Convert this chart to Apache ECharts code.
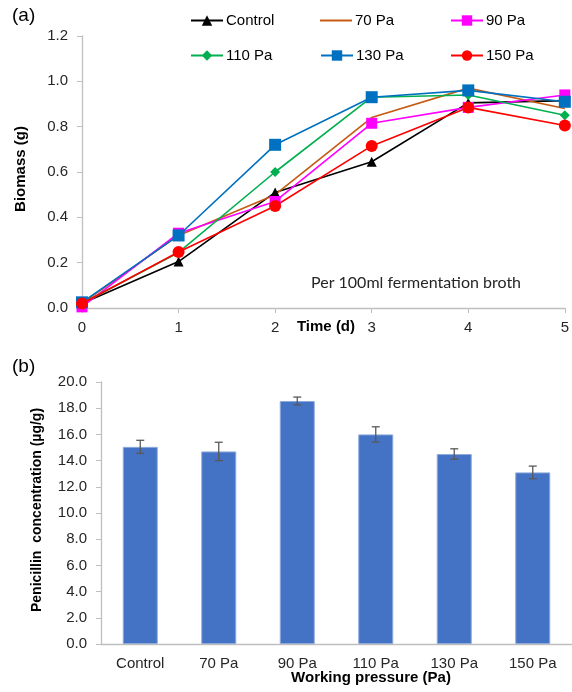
<!DOCTYPE html>
<html>
<head>
<meta charset="utf-8">
<script src="https://cdn.jsdelivr.net/npm/echarts@6/dist/echarts.min.js"></script>
<style>
  html, body { margin: 0; padding: 0; background: #fff; }
  #chart { width: 572px; height: 692px; }
</style>
</head>
<body>
<div id="chart"></div>
<script>
// (a) biomass over time
var days = [0, 1, 2, 3, 4, 5];
var control = [0.02, 0.205, 0.51, 0.645, 0.905, 0.915];
var pa70 = [0.02, 0.32, 0.50, 0.84, 0.97, 0.88];
var pa90 = [0.005, 0.33, 0.47, 0.815, 0.885, 0.94];
var pa110 = [0.02, 0.245, 0.60, 0.93, 0.94, 0.85];
var pa130 = [0.025, 0.32, 0.72, 0.93, 0.96, 0.91];
var pa150 = [0.02, 0.247, 0.45, 0.715, 0.885, 0.805];

// (b) penicillin concentration
var pressures = ['Control', '70 Pa', '90 Pa', '110 Pa', '130 Pa', '150 Pa'];
var penicillin = [15.05, 14.7, 18.55, 16.0, 14.5, 13.1];
var penicillinErr = [0.5, 0.7, 0.3, 0.58, 0.4, 0.48];

var FONT = 'Liberation Sans';
var axisGray = '#bfbfbf';
var labelColor = '#262626';

function pairs(ys) {
    return days.map(function (d, i) { return [d, ys[i]]; });
}

function lineSeries(name, ys, color, symbol, size) {
    return {
        name: name,
        type: 'line',
        xAxisIndex: 0,
        yAxisIndex: 0,
        data: pairs(ys),
        symbol: symbol,
        symbolSize: size,
        lineStyle: { color: color, width: 1.6 },
        itemStyle: { color: color },
        emphasis: { disabled: true },
        z: 3
    };
}

// one legend per entry so the columns line up like the original
var legendCols = [190, 320, 450];
var legendRows = [13, 48];
var legendNames = ['Control', '70 Pa', '90 Pa', '110 Pa', '130 Pa', '150 Pa'];
var legends = legendNames.map(function (n, i) {
    var lg = {
        data: [n],
        left: legendCols[i % 3],
        top: legendRows[Math.floor(i / 3)],
        padding: 0,
        itemWidth: 32, itemHeight: 13, itemGap: 0,
        textStyle: { fontFamily: FONT, fontSize: 15, color: '#000', padding: [0, 0, 0, -2] }
    };
    if (n === '70 Pa') {
        lg.icon = 'rect';
        lg.itemHeight = 2;
    }
    return lg;
});

var chart = echarts.init(document.getElementById('chart'), null, { renderer: 'canvas' });

var option = {
    animation: false,
    textStyle: { fontFamily: FONT },
    legend: legends,
    grid: [
        { left: 82, top: 36, width: 489, height: 272 },
        { left: 101, top: 382, width: 483, height: 262 }
    ],
    xAxis: [
        {
            type: 'value', gridIndex: 0,
            min: 0, max: 5, interval: 1,
            splitLine: { show: false },
            axisLine: { lineStyle: { color: axisGray, width: 1.3 } },
            axisTick: { show: true, length: 5, lineStyle: { color: axisGray } },
            axisLabel: { fontSize: 15, color: labelColor, margin: 12 }
        },
        {
            type: 'category', gridIndex: 1,
            data: pressures,
            axisLine: { lineStyle: { color: axisGray, width: 1.3 } },
            axisTick: { show: false },
            axisLabel: { fontSize: 15, color: labelColor, margin: 12, interval: 0 }
        }
    ],
    yAxis: [
        {
            type: 'value', gridIndex: 0,
            min: 0, max: 1.2, interval: 0.2,
            splitLine: { show: false },
            axisLine: { show: true, lineStyle: { color: axisGray, width: 1.3 } },
            axisTick: { show: true, length: 5, lineStyle: { color: axisGray } },
            axisLabel: {
                fontSize: 15, color: labelColor, margin: 14,
                formatter: function (v) { return v.toFixed(1); }
            }
        },
        {
            type: 'value', gridIndex: 1,
            min: 0, max: 20, interval: 2,
            splitLine: { show: false },
            axisLine: { show: true, lineStyle: { color: axisGray, width: 1.3 } },
            axisTick: { show: true, length: 5, lineStyle: { color: axisGray } },
            axisLabel: {
                fontSize: 15, color: labelColor, margin: 14,
                formatter: function (v) { return v.toFixed(1); }
            }
        }
    ],
    series: [
        lineSeries('Control', control, '#000000', 'triangle', 10),
        lineSeries('70 Pa', pa70, '#c55a11', 'none', 0),
        lineSeries('90 Pa', pa90, '#ff00ff', 'rect', 11),
        lineSeries('110 Pa', pa110, '#00b050', 'diamond', 10),
        lineSeries('130 Pa', pa130, '#0070c0', 'rect', 12),
        lineSeries('150 Pa', pa150, '#ff0000', 'circle', 12),
        {
            name: 'Penicillin',
            type: 'bar',
            xAxisIndex: 1,
            yAxisIndex: 1,
            data: penicillin,
            barWidth: 35,
            itemStyle: { color: '#4472c4', borderColor: '#8eaadb', borderWidth: 1 },
            emphasis: { disabled: true }
        },
        {
            name: 'err',
            type: 'custom',
            xAxisIndex: 1,
            yAxisIndex: 1,
            data: pressures.map(function (p, i) {
                return [i, penicillin[i] - penicillinErr[i], penicillin[i] + penicillinErr[i]];
            }),
            renderItem: function (params, api) {
                var lo = api.coord([api.value(0), api.value(1)]);
                var hi = api.coord([api.value(0), api.value(2)]);
                var cap = 4;
                var st = { stroke: '#595959', lineWidth: 1.3 };
                return {
                    type: 'group',
                    children: [
                        { type: 'line', shape: { x1: lo[0], y1: lo[1], x2: hi[0], y2: hi[1] }, style: st },
                        { type: 'line', shape: { x1: lo[0] - cap, y1: lo[1], x2: lo[0] + cap, y2: lo[1] }, style: st },
                        { type: 'line', shape: { x1: hi[0] - cap, y1: hi[1], x2: hi[0] + cap, y2: hi[1] }, style: st }
                    ]
                };
            },
            z: 5
        }
    ],
    graphic: [
        { type: 'text', left: 12, top: 6, style: { text: '(a)', fontFamily: FONT, fontSize: 19, fill: '#000' } },
        { type: 'text', left: 12, top: 357, style: { text: '(b)', fontFamily: FONT, fontSize: 19, fill: '#000' } },
        {
            type: 'text', x: 21, y: 169, rotation: Math.PI / 2,
            style: { text: 'Biomass (g)', fontFamily: FONT, fontSize: 15, fontWeight: 'bold', fill: '#000', align: 'center', verticalAlign: 'middle' }
        },
        {
            type: 'text', x: 326, y: 327,
            style: { text: 'Time (d)', fontFamily: FONT, fontSize: 15, fontWeight: 'bold', fill: '#000', align: 'center', verticalAlign: 'middle' }
        },
        {
            type: 'text', x: 311, y: 283,
            style: { text: 'Per 100ml fermentation broth', fontFamily: 'Lato', fontSize: 16, fill: '#262626', verticalAlign: 'middle' }
        },
        {
            type: 'text', x: 37, y: 510, rotation: Math.PI / 2,
            style: { text: 'Penicillin  concentration (µg/g)', fontFamily: FONT, fontSize: 14, fontWeight: 'bold', fill: '#000', align: 'center', verticalAlign: 'middle' }
        },
        {
            type: 'text', x: 371, y: 678,
            style: { text: 'Working pressure (Pa)', fontFamily: FONT, fontSize: 15, fontWeight: 'bold', fill: '#000', align: 'center', verticalAlign: 'middle' }
        }
    ]
};

chart.setOption(option);
</script>
</body>
</html>
